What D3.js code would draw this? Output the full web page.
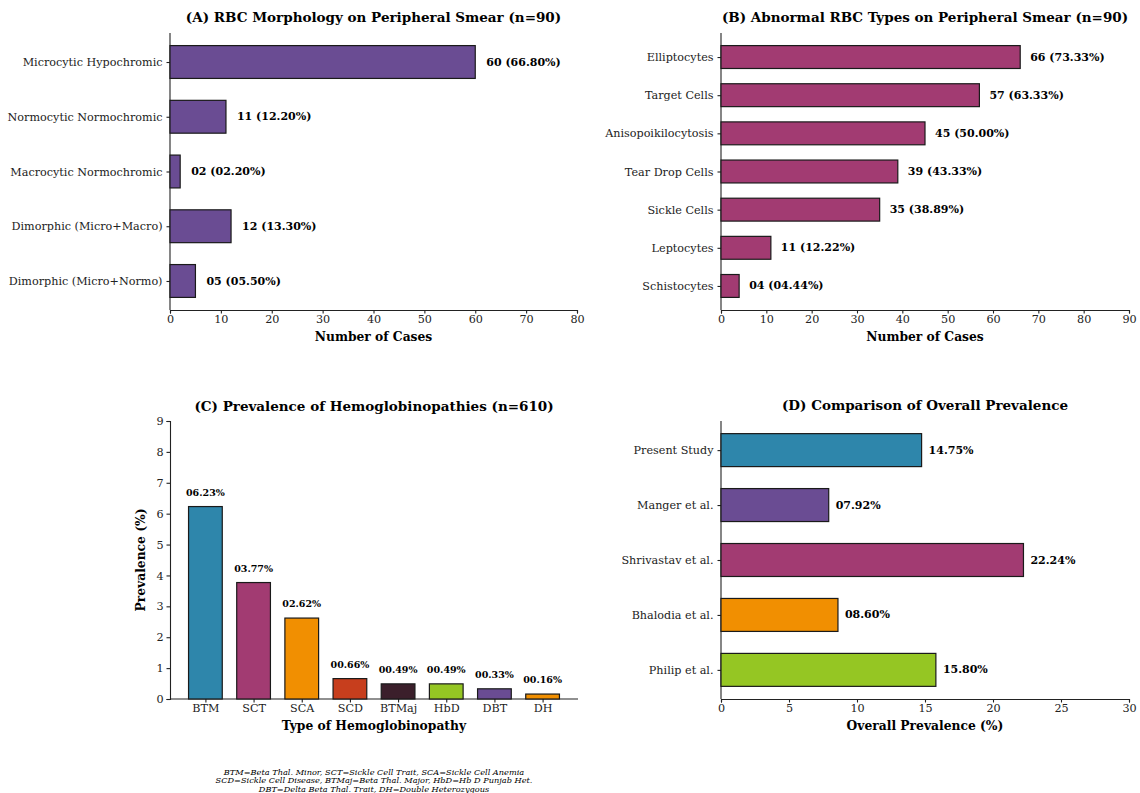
<!DOCTYPE html>
<html>
<head>
<meta charset="utf-8">
<script src="https://cdn.jsdelivr.net/npm/d3@7"></script>
<style>
  body { margin: 0; background: #fff; }
  svg { display: block; font-family: "DejaVu Serif", serif; }
  .axis { font-family: "DejaVu Serif", serif; }
  .tick text { font-size: 11.2px; fill: #222; font-family: "DejaVu Serif", serif; }
  .axis path, .axis line { stroke: #222; stroke-width: 1.1; }
  .title { font-size: 13.5px; font-weight: bold; }
  .alabel { font-size: 12.3px; font-weight: bold; }
  .val { font-weight: bold; fill: #000; }
</style>
</head>
<body>
<svg id="fig" width="1140" height="793"></svg>
<script>
// Panel A: RBC morphology
const morphCategories = ["Microcytic Hypochromic", "Normocytic Normochromic", "Macrocytic Normochromic", "Dimorphic (Micro+Macro)", "Dimorphic (Micro+Normo)"];
const morphCounts = [60, 11, 2, 12, 5];
const morphLabels = ["60 (66.80%)", "11 (12.20%)", "02 (02.20%)", "12 (13.30%)", "05 (05.50%)"];

// Panel B: abnormal RBC types
const rbcTypes = ["Elliptocytes", "Target Cells", "Anisopoikilocytosis", "Tear Drop Cells", "Sickle Cells", "Leptocytes", "Schistocytes"];
const rbcCounts = [66, 57, 45, 39, 35, 11, 4];
const rbcLabels = ["66 (73.33%)", "57 (63.33%)", "45 (50.00%)", "39 (43.33%)", "35 (38.89%)", "11 (12.22%)", "04 (04.44%)"];

// Panel C: hemoglobinopathies
const hbTypes = ["BTM", "SCT", "SCA", "SCD", "BTMaj", "HbD", "DBT", "DH"];
const hbPrevalence = [6.23, 3.77, 2.62, 0.66, 0.49, 0.49, 0.33, 0.16];
const hbLabels = ["06.23%", "03.77%", "02.62%", "00.66%", "00.49%", "00.49%", "00.33%", "00.16%"];

// Panel D: comparison of studies
const studies = ["Present Study", "Manger et al.", "Shrivastav et al.", "Bhalodia et al.", "Philip et al."];
const studyPrevalence = [14.75, 7.92, 22.24, 8.60, 15.80];
const studyLabels = ["14.75%", "07.92%", "22.24%", "08.60%", "15.80%"];

// Tick values
const ticksA = [0, 10, 20, 30, 40, 50, 60, 70, 80];
const ticksB = [0, 10, 20, 30, 40, 50, 60, 70, 80, 90];
const ticksC = [0, 1, 2, 3, 4, 5, 6, 7, 8, 9];
const ticksD = [0, 5, 10, 15, 20, 25, 30];

const footnote = [
  "BTM=Beta Thal. Minor, SCT=Sickle Cell Trait, SCA=Sickle Cell Anemia",
  "SCD=Sickle Cell Disease, BTMaj=Beta Thal. Major, HbD=Hb D Punjab Het.",
  "DBT=Delta Beta Thal. Trait, DH=Double Heterozygous"
];

const C = { blue: "#2E86AB", magenta: "#A23B72", orange: "#F18F01", red: "#C73E1D", dark: "#3B1F2B", green: "#95C623", purple: "#6A4C93" };
const hbColors = [C.blue, C.magenta, C.orange, C.red, C.dark, C.green, C.purple, C.orange];
const studyColors = [C.blue, C.purple, C.magenta, C.orange, C.green];

const svg = d3.select("#fig");

function styleAxis(a) {
  a.attr("font-family", null).attr("font-size", null);
}

// Horizontal bar panel; categories listed top to bottom
function hbar(opt) {
  const { x0, x1, y0, y1, cats, vals, labels, colors, xmax, ticks, title, xlabel, labelOffset } = opt;
  const n = cats.length;
  const g = svg.append("g");
  const x = d3.scaleLinear().domain([0, xmax]).range([x0, x1]);
  // index i=0 at top; limits padded like a 0.6-high bar layout with 5% margins
  const lo = -0.3, hi = n - 1 + 0.3, m = (hi - lo) * 0.05;
  const y = d3.scaleLinear().domain([lo - m, hi + m]).range([y0, y1]);
  const bh = Math.abs(y(0.6) - y(0));

  g.append("g").attr("class", "axis").attr("transform", `translate(0,${y1})`)
    .call(d3.axisBottom(x).tickValues(ticks).tickSizeOuter(0).tickSize(3.5).tickPadding(2))
    .call(styleAxis);
  g.append("g").attr("class", "axis").attr("transform", `translate(${x0},0)`)
    .call(d3.axisLeft(y).tickValues(d3.range(n)).tickFormat(i => cats[i]).tickSizeOuter(0).tickSize(3.5).tickPadding(4))
    .call(styleAxis)
    .call(a => a.select(".domain").attr("d", `M0,${y0}V${y1}`));

  g.selectAll("rect.bar").data(vals).join("rect")
    .attr("x", x(0)).attr("y", (d, i) => y(i) - bh / 2)
    .attr("width", d => x(d) - x(0)).attr("height", bh)
    .attr("fill", (d, i) => colors[i]).attr("stroke", "#1a1a1a").attr("stroke-width", 1.2);

  g.selectAll("text.val").data(vals).join("text").attr("class", "val")
    .attr("x", d => x(d) + labelOffset).attr("y", (d, i) => y(i)).attr("dy", "0.32em")
    .attr("font-size", 11).text((d, i) => labels[i]);

  svg.append("text").attr("class", "title").attr("x", (x0 + x1) / 2).attr("y", y0 - 11)
    .attr("text-anchor", "middle").text(title);
  svg.append("text").attr("class", "alabel").attr("x", (x0 + x1) / 2).attr("y", y1 + 31)
    .attr("text-anchor", "middle").text(xlabel);
}

hbar({ x0: 170, x1: 577, y0: 33, y1: 310, cats: morphCategories, vals: morphCounts, labels: morphLabels,
  colors: morphCounts.map(() => C.purple), xmax: 80, ticks: ticksA,
  title: "(A) RBC Morphology on Peripheral Smear (n=90)", xlabel: "Number of Cases", labelOffset: 11 });

hbar({ x0: 721, x1: 1129, y0: 33, y1: 310, cats: rbcTypes, vals: rbcCounts, labels: rbcLabels,
  colors: rbcCounts.map(() => C.magenta), xmax: 90, ticks: ticksB,
  title: "(B) Abnormal RBC Types on Peripheral Smear (n=90)", xlabel: "Number of Cases", labelOffset: 10 });

hbar({ x0: 721, x1: 1129, y0: 421, y1: 699, cats: studies, vals: studyPrevalence, labels: studyLabels,
  colors: studyColors, xmax: 30, ticks: ticksD,
  title: "(D) Comparison of Overall Prevalence", xlabel: "Overall Prevalence (%)", labelOffset: 7 });

// Panel C: vertical bars
(function () {
  const x0 = 170, x1 = 578, y0 = 421, y1 = 699;
  const n = hbTypes.length;
  const g = svg.append("g");
  const lo = -0.35, hi = n - 1 + 0.35, m = (hi - lo) * 0.05;
  const x = d3.scaleLinear().domain([lo - m, hi + m]).range([x0, x1]);
  const y = d3.scaleLinear().domain([0, 9]).range([y1, y0]);
  const bw = x(0.7) - x(0);

  g.append("g").attr("class", "axis").attr("transform", `translate(0,${y1})`)
    .call(d3.axisBottom(x).tickValues(d3.range(n)).tickFormat(i => hbTypes[i]).tickSizeOuter(0).tickSize(3.5).tickPadding(2))
    .call(styleAxis)
    .call(a => a.select(".domain").attr("d", `M${x0},0H${x1}`));
  g.append("g").attr("class", "axis").attr("transform", `translate(${x0},0)`)
    .call(d3.axisLeft(y).tickValues(ticksC).tickSizeOuter(0).tickSize(3.5).tickPadding(3))
    .call(styleAxis);

  g.selectAll("rect.bar").data(hbPrevalence).join("rect")
    .attr("x", (d, i) => x(i) - bw / 2).attr("y", d => y(d))
    .attr("width", bw).attr("height", d => y(0) - y(d))
    .attr("fill", (d, i) => hbColors[i]).attr("stroke", "#1a1a1a").attr("stroke-width", 1.2);

  g.selectAll("text.val").data(hbPrevalence).join("text").attr("class", "val")
    .attr("x", (d, i) => x(i)).attr("y", d => y(d) - 11)
    .attr("text-anchor", "middle").attr("font-size", 9.5).text((d, i) => hbLabels[i]);

  svg.append("text").attr("class", "title").attr("x", (x0 + x1) / 2).attr("y", y0 - 10)
    .attr("text-anchor", "middle").text("(C) Prevalence of Hemoglobinopathies (n=610)");
  svg.append("text").attr("class", "alabel").attr("x", (x0 + x1) / 2).attr("y", y1 + 31)
    .attr("text-anchor", "middle").text("Type of Hemoglobinopathy");
  svg.append("text").attr("class", "alabel")
    .attr("transform", `translate(${x0 - 25},${(y0 + y1) / 2}) rotate(-90)`)
    .attr("text-anchor", "middle").text("Prevalence (%)");

  svg.append("g").selectAll("text").data(footnote).join("text")
    .attr("x", 374).attr("y", (d, i) => 774.5 + i * 8.5)
    .attr("text-anchor", "middle").attr("font-size", 8.2).attr("font-style", "italic")
    .text(d => d);
})();
</script>
</body>
</html>
